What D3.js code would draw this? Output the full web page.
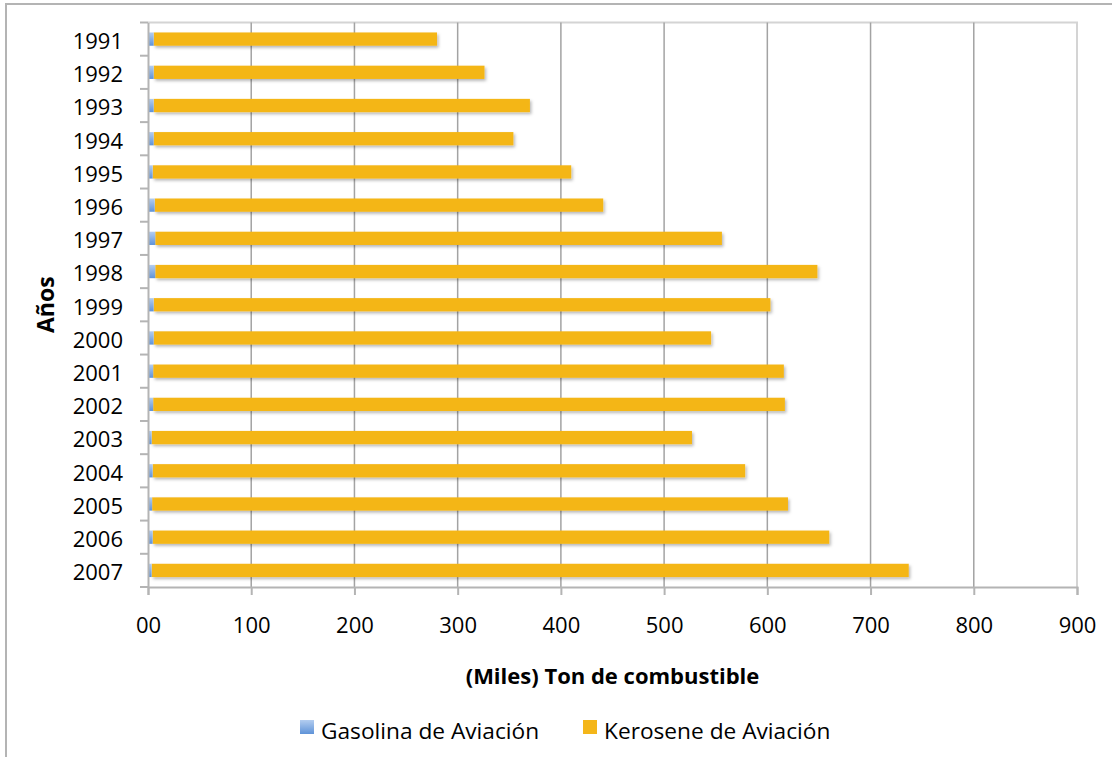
<!DOCTYPE html>
<html>
<head>
<meta charset="utf-8">
<script src="https://cdn.jsdelivr.net/npm/d3@7"></script>
<style>
  html, body { margin: 0; padding: 0; background: #fff; }
  svg { display: block; font-family: "Open Sans", sans-serif; }
</style>
</head>
<body>
<svg id="chart" width="1112" height="757"></svg>
<script>
const years = ["1991","1992","1993","1994","1995","1996","1997","1998","1999","2000","2001","2002","2003","2004","2005","2006","2007"];
const gasolina = [5.5,5.5,5.5,5.5,4.5,6.5,7,7,5.5,5.5,5,5,3.5,4.5,4,4.5,3.5];
const kerosene = [274.5,320.5,364.5,348.5,405.5,434.5,549,641.5,597.5,540,611,612,523.5,574,616,655.5,733.5];
const xTicks = [0,100,200,300,400,500,600,700,800,900];
const xTickLabels = ["00","100","200","300","400","500","600","700","800","900"];
const seriesNames = ["Gasolina de Aviación","Kerosene de Aviación"];
const xTitle = "(Miles) Ton de combustible";
const yTitle = "Años";

const svg = d3.select("#chart");
const W = 1112, H = 757;
const plot = {left: 148, right: 1077, top: 22.5, bottom: 587};

const defs = svg.append("defs");
const grad = defs.append("linearGradient").attr("id","blueGrad").attr("x1",0).attr("y1",0).attr("x2",0).attr("y2",1);
grad.append("stop").attr("offset","0%").attr("stop-color","#b3cdf0");
grad.append("stop").attr("offset","100%").attr("stop-color","#5f93d8");
const filt = defs.append("filter").attr("id","shadow").attr("x","-5%").attr("y","-50%").attr("width","110%").attr("height","220%");
filt.append("feDropShadow").attr("dx",1.5).attr("dy",2).attr("stdDeviation",1.5).attr("flood-color","#000").attr("flood-opacity",0.28);

// outer frame
svg.append("rect").attr("x",6).attr("y",4).attr("width",W+20).attr("height",H+20)
  .attr("fill","none").attr("stroke","#b4b4b4").attr("stroke-width",2);

const x = d3.scaleLinear().domain([0,900]).range([plot.left, plot.right]);
const y = d3.scaleBand().domain(years).range([plot.top, plot.bottom]).paddingInner(0).paddingOuter(0);

// plot border (top/right)
svg.append("path")
  .attr("d", `M${plot.left},${plot.top}H${plot.right}V${plot.bottom}`)
  .attr("fill","none").attr("stroke","#d4d4d4").attr("stroke-width",2);

// gridlines
svg.append("g").selectAll("line").data(xTicks.filter(d => d > 0 && d < 900)).join("line")
  .attr("x1", d => x(d)).attr("x2", d => x(d))
  .attr("y1", plot.top).attr("y2", plot.bottom)
  .attr("stroke","#a3a3a3").attr("stroke-width",1.5);

// bars
const data = years.map((yr,i) => ({yr, g: gasolina[i], k: kerosene[i]}));
const bh = y.bandwidth()*0.4;
const barG = svg.append("g");
barG.selectAll("rect.k").data(data).join("rect").attr("class","k")
  .attr("x", d => x(d.g)).attr("width", d => x(d.g + d.k) - x(d.g))
  .attr("y", d => y(d.yr) + (y.bandwidth()-bh)/2).attr("height", bh)
  .attr("fill","#f4b619").attr("filter","url(#shadow)");
barG.selectAll("rect.g").data(data).join("rect").attr("class","g")
  .attr("x", x(0)).attr("width", d => x(d.g) - x(0))
  .attr("y", d => y(d.yr) + (y.bandwidth()-bh)/2).attr("height", bh)
  .attr("fill","url(#blueGrad)");

// x axis
const xAxis = d3.axisBottom(x).tickValues(xTicks).tickFormat((d,i) => xTickLabels[i]).tickSize(8).tickPadding(22);
const gx = svg.append("g").attr("transform",`translate(0,${plot.bottom})`).call(xAxis);
gx.select(".domain").attr("stroke","#b4b4b4").attr("stroke-width",2);
gx.selectAll(".tick line").attr("stroke","#b4b4b4").attr("stroke-width",2);
gx.selectAll("text").attr("font-size",22).attr("fill","#000").attr("font-family","Open Sans");

// y axis
const yAxis = d3.axisLeft(y).tickSize(0).tickPadding(25);
const gy = svg.append("g").attr("transform",`translate(${plot.left},0)`).call(yAxis);
gy.select(".domain").attr("stroke","#b4b4b4").attr("stroke-width",2);
gy.selectAll("text").attr("font-size",22).attr("fill","#000").attr("font-family","Open Sans").attr("dy","0.45em");
// y tick marks at band boundaries
const bounds = years.map(d => y(d)).concat([plot.bottom]);
gy.selectAll("line.bt").data(bounds).join("line").attr("class","bt")
  .attr("x1",-8).attr("x2",0).attr("y1",d=>d).attr("y2",d=>d)
  .attr("stroke","#b4b4b4").attr("stroke-width",2);

// axis titles
svg.append("text").attr("x",(plot.left+plot.right)/2).attr("y",684)
  .attr("text-anchor","middle").attr("font-weight","bold").attr("font-size",22)
  .text(xTitle);
svg.append("text").attr("transform",`translate(54,${(plot.top+plot.bottom)/2}) rotate(-90)`)
  .attr("text-anchor","middle").attr("font-weight","bold").attr("font-size",23)
  .text(yTitle);

// legend
const legendX = [300, 583];
const colors = ["url(#blueGrad)","#f4b619"];
const lg = svg.append("g");
seriesNames.forEach((name,i) => {
  lg.append("rect").attr("x",legendX[i]).attr("y",720).attr("width",14).attr("height",14).attr("fill",colors[i]);
  lg.append("text").attr("x",legendX[i]+21).attr("y",739).attr("font-size",22.7).attr("fill","#000").text(name);
});
</script>
</body>
</html>
